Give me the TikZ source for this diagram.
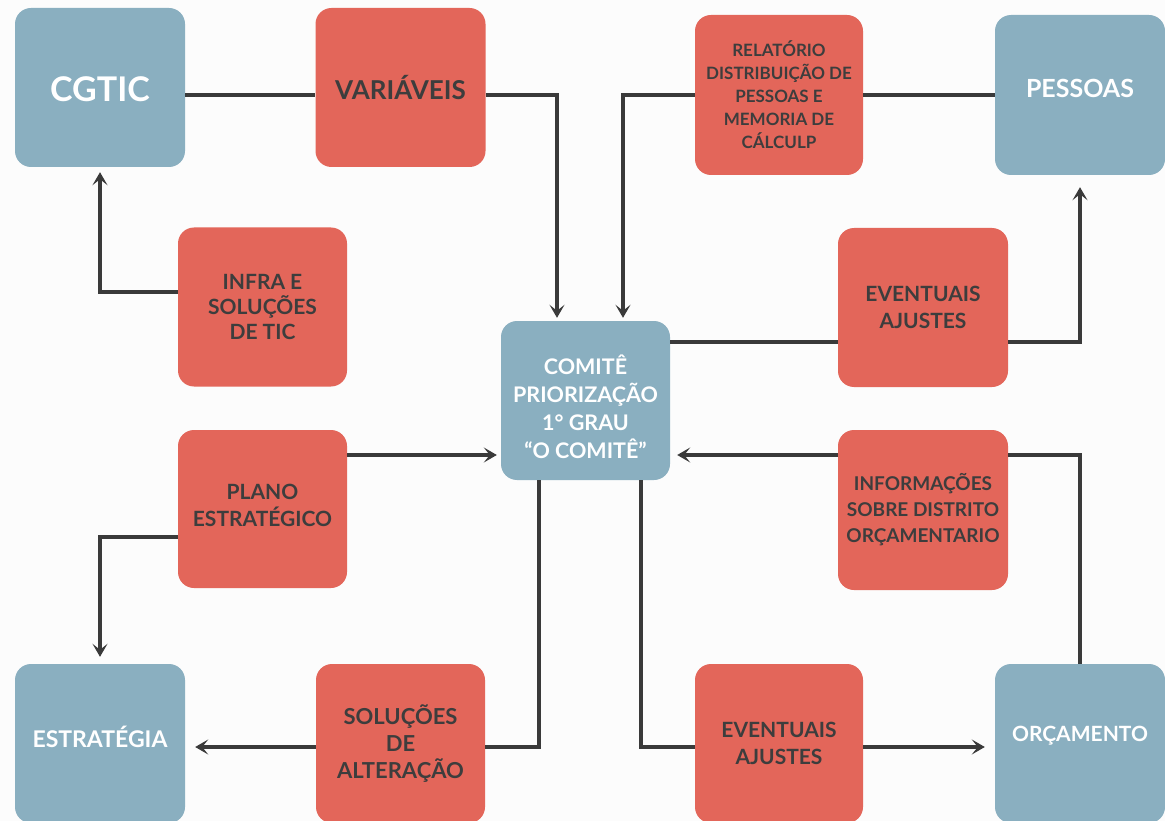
\documentclass[tikz,border=0pt]{standalone}
\usepackage{fontspec}
\setmainfont{Lato}
\usetikzlibrary{arrows.meta}
\definecolor{boxblue}{HTML}{8AAFC0}
\definecolor{boxred}{HTML}{E3665A}
\definecolor{inkdark}{HTML}{3D3D3D}
\definecolor{linegray}{HTML}{3A3A3A}
\definecolor{paper}{HTML}{FCFCFC}
\newcommand{\fsz}[2]{\fontsize{#1}{#2}\selectfont}
\tikzset{
  card/.style={rectangle, rounded corners=16pt, inner sep=0pt,
               minimum width=170pt, minimum height=159pt, draw=none},
  bluecard/.style={card, fill=boxblue},
  redcard/.style={card, fill=boxred},
  wtext/.style 2 args={text=white, font=\bfseries\fsz{#1}{#2}, align=center, inner sep=0pt},
  dtext/.style 2 args={text=inkdark, font=\bfseries\fsz{#1}{#2}, align=center, inner sep=0pt},
  link/.style={draw=linegray, line width=3.2pt},
  arr/.style={link, -{Stealth[length=13pt,width=15pt,inset=6pt]}},
}
\begin{document}
\begin{tikzpicture}[x=1pt,y=-1pt]
  \fill[paper] (0,0) rectangle (1165,821);
  \useasboundingbox (0,0) rectangle (1165,821);

  % boxes
  \node[bluecard] (cgtic) at (100,87.5) {};
  \node[redcard]  (var)   at (400.5,87.5) {};
  \node[redcard, minimum width=168pt, minimum height=160pt] (rel) at (779,95) {};
  \node[bluecard, minimum height=160pt] (pes) at (1080,95) {};
  \node[redcard, minimum width=169pt] (infra) at (262.5,307) {};
  \node[redcard] (evu) at (923,307.5) {};
  \node[redcard, minimum width=169pt, minimum height=158pt] (plano) at (262.5,509) {};
  \node[redcard, minimum height=160pt] (info) at (923,510) {};
  \node[bluecard, minimum width=169pt] (com) at (585.5,400.5) {};
  \node[bluecard] (est) at (100,743.5) {};
  \node[redcard, minimum width=169pt] (sol) at (400.5,743.5) {};
  \node[redcard, minimum width=168pt] (evl) at (779,743.5) {};
  \node[bluecard] (orc) at (1080,743.5) {};

  % labels
  \node[wtext={34}{40}] (cgtic-t) at ([yshift=-1.5pt]cgtic.center) {CGTIC};
  \node[dtext={26}{30}] (var-t) at (var.center) {VARIÁVEIS};
  \node[dtext={17}{23}] (rel-t) at (rel.center) {RELATÓRIO\\DISTRIBUIÇÃO DE\\PESSOAS E\\MEMORIA DE\\CÁLCULP};
  \node[wtext={25}{28}] (pes-t) at ([yshift=7pt]pes.center) {PESSOAS};
  \node[dtext={21}{25}] (infra-t) at (infra.center) {INFRA E\\SOLUÇÕES\\DE TIC};
  \node[dtext={21}{27}] (evu-t) at (evu.center) {EVENTUAIS\\AJUSTES};
  \node[dtext={21}{27}] (plano-t) at ([yshift=4pt]plano.center) {PLANO\\ESTRATÉGICO};
  \node[dtext={19}{26}] (info-t) at (info.center) {INFORMAÇÕES\\SOBRE DISTRITO\\ORÇAMENTARIO};
  \node[wtext={21.5}{28}] (com-t) at ([yshift=-6.5pt]com.center) {COMITÊ\\PRIORIZAÇÃO\\1° GRAU\\“O COMITÊ”};
  \node[wtext={23}{28}] (est-t) at ([yshift=6.5pt]est.center) {ESTRATÉGIA};
  \node[dtext={22}{27}] (sol-t) at (sol.center) {SOLUÇÕES\\DE\\ALTERAÇÃO};
  \node[dtext={21}{27}] (evl-t) at (evl.center) {EVENTUAIS\\AJUSTES};
  \node[wtext={21}{26}] (orc-t) at ([yshift=7.5pt]orc.center) {ORÇAMENTO};

  % rows used by the connectors
  \coordinate (rowtop) at (0,95);
  \coordinate (rowinf) at (0,292);
  \coordinate (rowup)  at (0,342);
  \coordinate (rowin)  at (0,455);
  \coordinate (rowpl)  at (0,537);
  \coordinate (rowlow) at (0,747);

  % connectors
  \draw[link] (cgtic.east |- rowtop) -- (var.west |- rowtop);
  \draw[arr, shorten >=3pt] (var.east |- rowtop) -| ([xshift=-28.5pt]com.north);
  \draw[link] (pes.west) -- (rel.east);
  \draw[arr, shorten >=3pt] (rel.west) -| ([xshift=37.5pt]com.north);
  \draw[arr, shorten >=5pt] (infra.west |- rowinf) -| (cgtic.south);
  \draw[link] (com.east |- rowup) -- (evu.west |- rowup);
  \draw[arr, shorten >=12pt] (evu.east |- rowup) -| (pes.south);
  \draw[arr, shorten >=4pt] (plano.east |- rowin) -- (com.west |- rowin);
  \draw[arr, shorten >=7pt] (plano.west |- rowpl) -| (est.north);
  \draw[link] (orc.north) |- (info.east |- rowin);
  \draw[arr, shorten >=7pt] (info.west |- rowin) -- (com.east |- rowin);
  \draw[link] ([xshift=-46.5pt]com.south) |- (sol.east |- rowlow);
  \draw[arr, shorten >=10pt] (sol.west |- rowlow) -- (est.east |- rowlow);
  \draw[link] ([xshift=55.5pt]com.south) |- (evl.west |- rowlow);
  \draw[arr, shorten >=10pt] (evl.east |- rowlow) -- (orc.west |- rowlow);
\end{tikzpicture}
\end{document}
